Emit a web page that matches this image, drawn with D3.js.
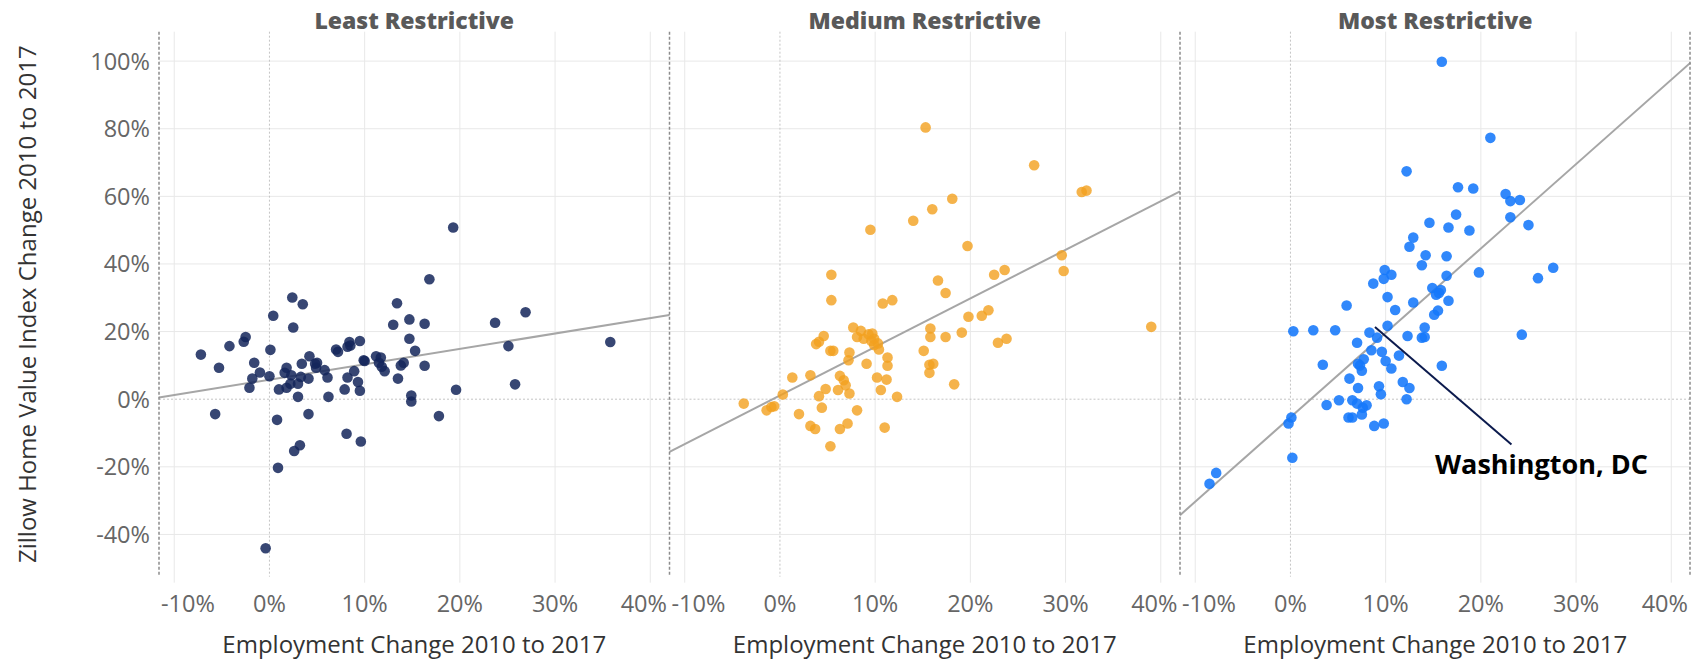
<!DOCTYPE html>
<html>
<head>
<meta charset="utf-8">
<script src="https://cdn.jsdelivr.net/npm/d3@7"></script>
<style>
  html, body { margin: 0; padding: 0; background: #fff; }
  svg { display: block; font-family: "Open Sans", "Noto Sans", sans-serif; }
</style>
</head>
<body>
<svg id="chart" width="1691" height="659"></svg>
<script>
// ---- Data: employment change (x, %) vs. Zillow home value index change (y, %) ----
const panelTitles = ["Least Restrictive", "Medium Restrictive", "Most Restrictive"];

const leastEmp = [19.3,16.8,2.4,3.5,13.4,0.4,14.7,13.0,16.3,23.7,26.9,2.5,
  -7.2,-5.3,-4.2,-2.5,-2.7,0.1,-1.6,-1.0,-1.8,-2.1,0.0,-5.7,1.0,1.8,1.6,1.8,2.3,2.2,3.0,3.3,3.4,3.0,4.1,4.2,4.1,0.8,0.9,2.6,3.2,-0.4,
  4.8,5.0,4.9,5.8,6.1,6.2,7.0,7.2,8.2,8.4,8.5,9.5,8.2,7.9,8.9,9.3,9.5,8.1,9.6,9.9,10.0,11.2,11.7,11.5,11.8,12.1,13.5,13.8,14.1,14.7,
  15.3,16.3,14.9,14.9,17.8,19.6,25.1,25.8,35.8];
const leastHome = [50.8,35.5,30.1,28.1,28.4,24.7,23.6,22.0,22.3,22.6,25.7,21.2,
  13.2,9.3,15.7,18.4,17.0,14.6,10.8,7.9,6.1,3.4,6.8,-4.4,2.9,9.3,7.8,3.4,7.1,4.6,4.6,6.6,10.5,0.7,6.1,12.7,-4.4,-6.1,-20.3,-15.3,-13.6,-44.1,
  10.5,10.8,9.3,8.6,6.4,0.7,14.7,14.0,15.5,16.9,15.9,17.2,6.4,2.9,8.3,5.1,2.5,-10.2,-12.5,11.5,11.3,12.7,12.3,10.8,9.6,8.3,6.1,10.0,10.8,17.9,
  14.3,9.9,1.1,-0.7,-5.0,2.8,15.7,4.4,16.9];

const mediumEmp = [15.3,26.7,31.7,32.2,18.1,16.0,14.0,9.5,19.7,29.6,29.8,5.4,22.5,23.6,16.6,17.4,5.4,10.8,11.8,19.8,21.2,21.9,39.0,
  7.7,8.5,8.1,8.8,9.3,9.7,9.9,9.6,10.3,9.9,10.4,15.8,15.8,17.4,19.1,22.9,23.8,
  4.6,4.1,3.8,5.3,5.6,7.3,7.2,9.1,11.3,11.3,15.1,15.7,16.1,15.7,1.3,3.2,6.3,6.7,6.9,6.1,7.3,4.8,4.1,10.2,11.2,10.6,12.3,18.3,0.3,
  -3.8,-1.4,-0.9,-0.6,2.0,4.4,8.1,3.2,3.7,6.3,7.1,11.0,5.3];
const mediumHome = [80.4,69.2,61.3,61.7,59.3,56.2,52.8,50.1,45.3,42.6,37.9,36.8,36.8,38.2,35.1,31.4,29.3,28.3,29.3,24.4,24.7,26.3,21.4,
  21.2,20.2,18.4,17.9,19.2,19.4,17.9,17.2,16.5,16.0,14.7,20.9,18.4,18.4,19.7,16.7,17.9,
  18.7,17.0,16.3,14.3,14.3,13.8,11.5,10.5,12.3,9.9,14.3,10.2,10.5,7.8,6.4,7.1,6.9,5.6,4.1,2.7,1.7,3.0,0.9,6.4,5.8,2.7,0.7,4.4,1.4,
  -1.3,-3.3,-2.3,-2.1,-4.4,-2.5,-3.3,-7.9,-8.8,-8.8,-7.2,-8.4,-13.9];

const mostEmp = [15.9,21.0,12.2,17.6,19.2,22.6,23.1,24.1,23.1,25.0,17.4,14.6,16.6,18.8,12.9,12.5,14.2,16.4,13.8,27.6,
  26.0,19.8,9.9,10.6,9.8,8.7,16.4,14.9,15.8,15.3,15.6,16.6,10.2,12.9,11.0,5.9,15.5,15.1,10.2,14.1,
  0.3,2.4,4.7,8.3,9.1,7.0,8.5,9.6,10.0,10.6,11.4,12.3,13.8,14.1,24.3,15.9,3.4,7.7,7.1,7.3,7.5,6.2,7.1,9.3,9.5,11.8,12.5,12.2,
  5.1,3.8,6.5,7.0,7.6,8.0,7.5,6.1,6.5,8.8,9.8,0.1,-0.2,0.2,-7.8,-8.5];
const mostHome = [99.8,77.3,67.4,62.7,62.3,60.7,58.6,58.9,53.8,51.5,54.6,52.2,50.8,49.9,47.8,45.1,42.6,42.3,39.6,38.9,
  35.8,37.5,38.2,36.8,35.6,34.2,36.5,32.9,32.3,30.9,31.4,29.1,30.2,28.6,26.4,27.7,26.2,25.0,21.7,21.2,
  20.1,20.4,20.4,19.7,18.2,16.7,14.5,14.0,11.3,9.1,12.9,18.7,18.2,18.4,19.1,9.9,10.2,11.8,10.5,10.0,8.4,6.1,3.3,3.8,1.5,5.1,3.3,0.0,
  -0.3,-1.7,-0.3,-1.3,-2.5,-1.8,-4.5,-5.4,-5.4,-7.9,-7.2,-5.4,-7.2,-17.3,-21.8,-25.0];

// Linear trend per panel (intercept and slope, in % units)
const trendIntercept = [5.78, 1.07, -5.35];
const trendSlope = [0.455, 1.437, 2.496];

// Labelled metro (in the Most Restrictive panel)
const highlightName = "Washington, DC";
const highlightEmp = 8.3;
const highlightHome = 19.7;

const xTicks = [-10, 0, 10, 20, 30, 40];
const yTicks = [-40, -20, 0, 20, 40, 60, 80, 100];

// ---- Layout ----
const svg = d3.select("#chart");
const W = 1691, H = 659;
const paneLeft = 159, paneW = 510.5;
const plotTop = 31.7, plotBottom = 576.7;
const colors = ["#14265a", "#f3a01e", "#1478fa"];
const opac = [0.85, 0.8, 0.88];
const series = [[leastEmp, leastHome], [mediumEmp, mediumHome], [mostEmp, mostHome]];
const tickSize = 23.5, titleSize = 24;

const y = d3.scaleLinear().domain([-52.5, 108.7]).range([plotBottom, plotTop]);
const pct = d => d + "%";

series.forEach((s, i) => {
  const x0 = paneLeft + i * paneW, x1 = x0 + paneW;
  const x = d3.scaleLinear().domain([-11.6, 42.02]).range([x0, x1]);
  const g = svg.append("g");

  // gridlines
  g.selectAll(".vg").data(xTicks.filter(t => t !== 0)).join("line")
    .attr("x1", d => x(d)).attr("x2", d => x(d))
    .attr("y1", plotTop).attr("y2", plotBottom + 6)
    .attr("stroke", "#e8e8e8").attr("stroke-width", 1);
  g.selectAll(".hg").data(yTicks.filter(t => t !== 0)).join("line")
    .attr("x1", x0).attr("x2", x1)
    .attr("y1", d => y(d)).attr("y2", d => y(d))
    .attr("stroke", "#e8e8e8").attr("stroke-width", 1);
  // zero lines (dotted)
  g.append("line").attr("x1", x(0)).attr("x2", x(0)).attr("y1", plotTop).attr("y2", plotBottom)
    .attr("stroke", "#c4c4c4").attr("stroke-width", 1).attr("stroke-dasharray", "2,2");
  g.append("line").attr("x1", x0).attr("x2", x1).attr("y1", y(0)).attr("y2", y(0))
    .attr("stroke", "#c4c4c4").attr("stroke-width", 1).attr("stroke-dasharray", "2,2");

  // trend line
  const xd = x.domain();
  g.append("line")
    .attr("x1", x(xd[0])).attr("y1", y(trendIntercept[i] + trendSlope[i] * xd[0]))
    .attr("x2", x(xd[1])).attr("y2", y(trendIntercept[i] + trendSlope[i] * xd[1]))
    .attr("stroke", "#a6a6a6").attr("stroke-width", 2);

  // points
  const pts = s[0].map((e, k) => ({ e, h: s[1][k] }));
  g.selectAll("circle").data(pts).join("circle")
    .attr("cx", d => x(d.e)).attr("cy", d => y(d.h)).attr("r", 5.3)
    .attr("fill", colors[i]).attr("fill-opacity", opac[i]);

  // panel title
  svg.append("text").attr("x", (x0 + x1) / 2).attr("y", 29.3)
    .attr("text-anchor", "middle").attr("font-weight", 800).attr("font-size", 23)
    .attr("fill", "#595959").text(panelTitles[i]);

  // x tick labels, kept inside the pane
  xTicks.forEach(t => {
    const lbl = svg.append("text").attr("y", 611.7).attr("font-size", tickSize)
      .attr("fill", "#666").text(pct(t));
    const w = lbl.node().getComputedTextLength();
    let lx = x(t) - w / 2;
    lx = Math.max(lx, x0 + 2);
    lx = Math.min(lx, x1 - 2.5 - w);
    lbl.attr("x", lx);
  });

  // x axis title
  svg.append("text").attr("x", (x0 + x1) / 2).attr("y", 653)
    .attr("text-anchor", "middle").attr("font-size", titleSize).attr("fill", "#333")
    .text("Employment Change 2010 to 2017");

  // highlighted metro annotation
  if (i === 2) {
    const cx = x(highlightEmp), cy = y(highlightHome);
    svg.append("line")
      .attr("x1", cx + 5.5).attr("y1", cy - 5.5)
      .attr("x2", cx + 142).attr("y2", cy + 112)
      .attr("stroke", "#0b1a4d").attr("stroke-width", 2);
    svg.append("text").attr("x", cx + 172).attr("y", cy + 141)
      .attr("text-anchor", "middle").attr("font-weight", 700).attr("font-size", 27)
      .attr("fill", "#000").text(highlightName);
  }
});

// pane separators (dashed)
d3.range(4).forEach(k => {
  const px = Math.min(paneLeft + k * paneW, W - 1);
  svg.append("line").attr("x1", px).attr("x2", px).attr("y1", plotTop).attr("y2", plotBottom)
    .attr("stroke", "#8c8c8c").attr("stroke-width", 1.5).attr("stroke-dasharray", "3,2");
});

// y tick labels
svg.selectAll(".ytl").data(yTicks).join("text")
  .attr("x", 150).attr("y", d => y(d)).attr("dy", "0.36em")
  .attr("text-anchor", "end").attr("font-size", tickSize).attr("fill", "#666")
  .text(pct);

// y axis title
svg.append("text")
  .attr("transform", `translate(36, ${(plotTop + plotBottom) / 2}) rotate(-90)`)
  .attr("text-anchor", "middle").attr("font-size", titleSize).attr("fill", "#333")
  .text("Zillow Home Value Index Change 2010 to 2017");
</script>
</body>
</html>
